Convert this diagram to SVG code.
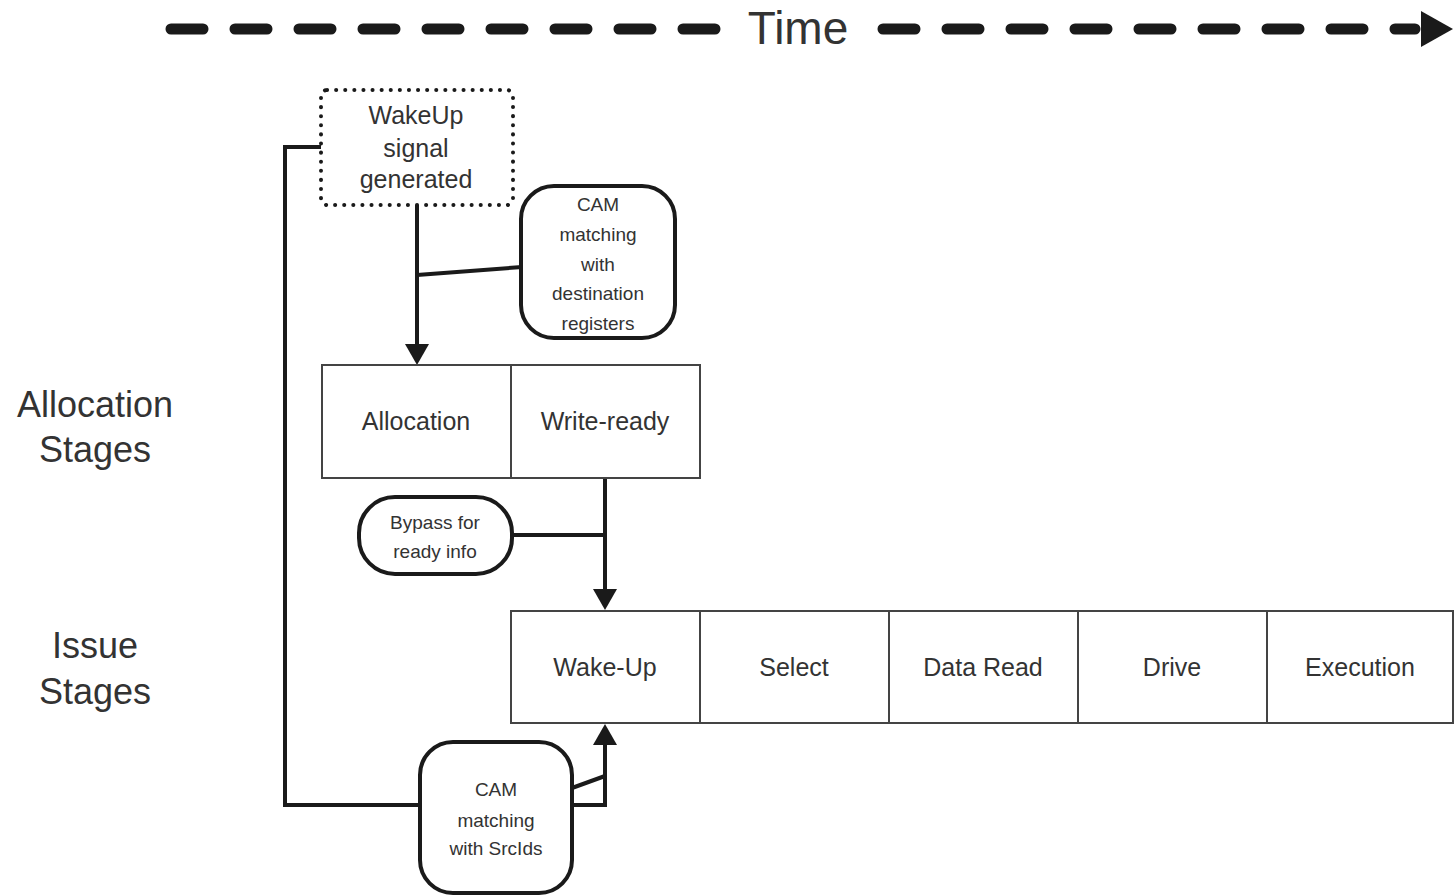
<svg xmlns="http://www.w3.org/2000/svg" width="1454" height="895" viewBox="0 0 1454 895">
<defs>
<style>
.t{font-family:"Liberation Sans",Arial,sans-serif;fill:#333;text-anchor:middle}
.big{font-size:36px}
.stage{font-size:25px}
.small{font-size:19px}
.box{fill:#fff;stroke:#444;stroke-width:2}
.rnd{fill:#fff;stroke:#1a1a1a;stroke-width:4}
.ln{fill:none;stroke:#1a1a1a;stroke-width:4}
.dash{fill:none;stroke:#1a1a1a;stroke-width:11;stroke-linecap:round}
</style>
<marker id="ah" viewBox="0 0 10 10" refX="0" refY="5" markerWidth="21" markerHeight="24" preserveAspectRatio="none" markerUnits="userSpaceOnUse" orient="auto">
<path d="M0,0 L10,5 L0,10 Z" fill="#1a1a1a"/>
</marker>
</defs>
<rect width="1454" height="895" fill="#fff"/>

<g id="time">
<path class="dash" d="M171,29 H716 M883,29 H1415" stroke-dasharray="32 32"/>
<path d="M1421,11 L1453,29 L1421,47 Z" fill="#1a1a1a"/>
<text class="t" x="798" y="44" font-size="46">Time</text>
</g>

<g id="labels">
<text class="t big" x="95" y="417">Allocation</text>
<text class="t big" x="95" y="462">Stages</text>
<text class="t big" x="95" y="658">Issue</text>
<text class="t big" x="95" y="704">Stages</text>
</g>

<g id="connectors">
<path class="ln" d="M321,147 H285 V805 H420"/>
<path class="ln" d="M417,205 V344" marker-end="url(#ah)"/>
<path class="ln" d="M417,275 L522,267"/>
<path class="ln" d="M605,478 V589" marker-end="url(#ah)"/>
<path class="ln" d="M512,535 H605"/>
<path class="ln" d="M572,805 H605 V745" marker-end="url(#ah)"/>
<path class="ln" d="M572,788 L605,776"/>
</g>

<g id="wakeup-signal">
<rect x="321" y="90" width="192" height="115" rx="6" fill="#fff" stroke="#1a1a1a" stroke-width="4" stroke-dasharray="0.1 9" stroke-linecap="round"/>
<text class="t" x="416" y="124" font-size="25">WakeUp</text>
<text class="t" x="416" y="157" font-size="25">signal</text>
<text class="t" x="416" y="188" font-size="25">generated</text>
</g>

<g id="cam-dest">
<rect class="rnd" x="521" y="186" width="154" height="152" rx="33"/>
<text class="t small" x="598" y="211">CAM</text>
<text class="t small" x="598" y="241">matching</text>
<text class="t small" x="598" y="271">with</text>
<text class="t small" x="598" y="300">destination</text>
<text class="t small" x="598" y="330">registers</text>
</g>

<g id="allocation">
<rect class="box" x="322" y="365" width="189" height="113"/>
<text class="t stage" x="416" y="430">Allocation</text>
</g>
<g id="write-ready">
<rect class="box" x="511" y="365" width="189" height="113"/>
<text class="t stage" x="605" y="430">Write-ready</text>
</g>

<g id="bypass">
<rect class="rnd" x="359" y="497" width="153" height="77" rx="36"/>
<text class="t small" x="435" y="529">Bypass for</text>
<text class="t small" x="435" y="558">ready info</text>
</g>

<g id="wake-up">
<rect class="box" x="511" y="611" width="189" height="112"/>
<text class="t stage" x="605" y="676">Wake-Up</text>
</g>
<g id="select">
<rect class="box" x="700" y="611" width="189" height="112"/>
<text class="t stage" x="794" y="676">Select</text>
</g>
<g id="data-read">
<rect class="box" x="889" y="611" width="189" height="112"/>
<text class="t stage" x="983" y="676">Data Read</text>
</g>
<g id="drive">
<rect class="box" x="1078" y="611" width="189" height="112"/>
<text class="t stage" x="1172" y="676">Drive</text>
</g>
<g id="execution">
<rect class="box" x="1267" y="611" width="186" height="112"/>
<text class="t stage" x="1360" y="676">Execution</text>
</g>

<g id="cam-srcids">
<rect class="rnd" x="420" y="742" width="152" height="151" rx="33"/>
<text class="t small" x="496" y="796">CAM</text>
<text class="t small" x="496" y="827">matching</text>
<text class="t small" x="496" y="855">with SrcIds</text>
</g>
</svg>
